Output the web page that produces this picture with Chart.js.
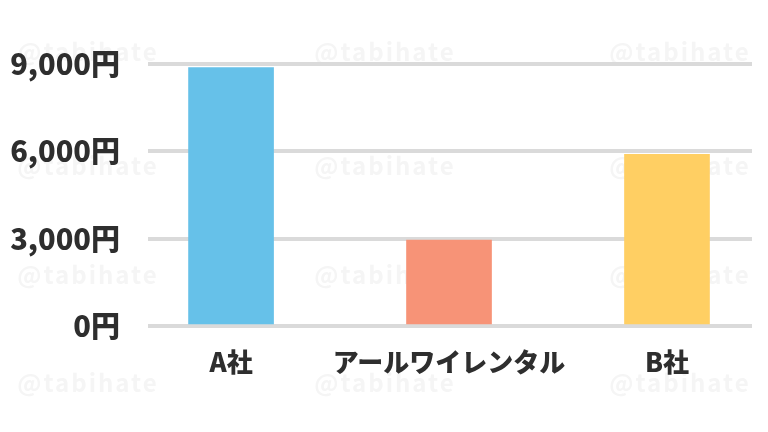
<!DOCTYPE html>
<html>
<head>
<meta charset="utf-8">
<script src="https://cdn.jsdelivr.net/npm/chart.js@4.4.1/dist/chart.umd.min.js"></script>
<style>
  html, body { margin: 0; padding: 0; background: #fff; }
  #wrap { width: 768px; height: 432px; }
</style>
</head>
<body>
<div id="wrap"><canvas id="chart-canvas"></canvas></div>
<script>
// data
const categories = ["A社", "アールワイレンタル", "B社"];
const prices = [8880, 2950, 5900];
const barColors = ["#66c1e9", "#f79377", "#ffcf63"];
const yTicks = [0, 3000, 6000, 9000];

const FONT = '"Noto Sans CJK JP", "Noto Sans", sans-serif';

// faint watermark behind everything
const watermark = {
  id: "watermark",
  beforeDraw(chart) {
    const ctx = chart.ctx;
    ctx.save();
    ctx.font = "bold 24px " + FONT;
    ctx.letterSpacing = "2px";
    ctx.fillStyle = "#f5f5f5";
    ctx.textAlign = "center";
    ctx.textBaseline = "middle";
    [52, 166, 275, 383].forEach(function (y) {
      [88, 385, 680].forEach(function (x) {
        ctx.fillText("@tabihate", x, y);
      });
    });
    ctx.restore();
  },
};

const ctx = document.getElementById("chart-canvas").getContext("2d");
const myChart = new Chart(ctx, {
  type: "bar",
  data: {
    datasets: [
      {
        data: prices.map((p, i) => ({ x: i, y: p })),
        backgroundColor: barColors,
        borderWidth: 0,
        barThickness: 85,
      },
    ],
  },
  options: {
    responsive: true,
    maintainAspectRatio: false,
    animation: false,
    layout: { padding: { top: 64, right: 16, left: 0, bottom: 0 } },
    plugins: {
      legend: { display: false },
      tooltip: { enabled: false },
    },
    scales: {
      x: {
        type: "linear",
        offset: false,
        min: -0.381,
        max: 2.39,
        grid: { display: false, drawTicks: false },
        border: { display: false },
        afterBuildTicks: function (axis) {
          axis.ticks = categories.map((_, i) => ({ value: i }));
        },
        afterFit: function (axis) {
          axis.height = 106;
        },
        ticks: {
          padding: 21,
          color: "#2e2e2e",
          maxRotation: 0,
          minRotation: 0,
          autoSkip: false,
          font: { family: FONT, size: 26, weight: "900" },
          callback: function (value) {
            return categories[value];
          },
        },
      },
      y: {
        min: 0,
        max: 9000,
        grid: { color: "#dadada", lineWidth: 4, drawTicks: false },
        border: { display: false },
        afterBuildTicks: function (axis) {
          axis.ticks = yTicks.map((v) => ({ value: v }));
        },
        afterFit: function (axis) {
          axis.width = 148;
        },
        ticks: {
          padding: 28,
          color: "#2e2e2e",
          font: { family: FONT, size: 29, weight: "900" },
          callback: function (value) {
            return value.toLocaleString("en-US") + "円";
          },
        },
      },
    },
  },
  plugins: [watermark],
});
</script>
</body>
</html>
